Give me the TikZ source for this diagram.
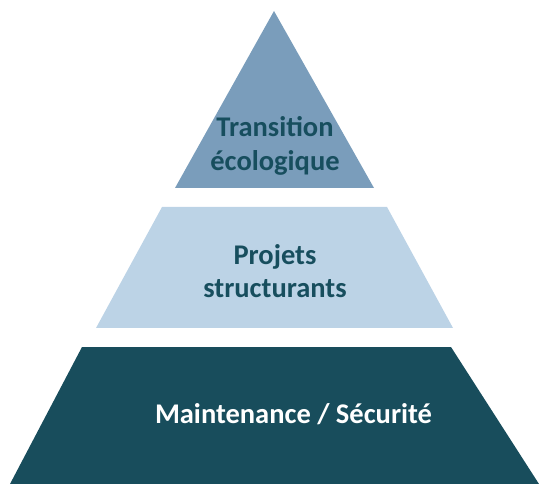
\documentclass[tikz,border=0pt]{standalone}
\usepackage{fontspec}
\setmainfont{Carlito}
\definecolor{topblue}{RGB}{122,157,187}
\definecolor{midblue}{RGB}{188,211,230}
\definecolor{darkteal}{RGB}{24,77,92}
\definecolor{textteal}{RGB}{23,78,94}
\tikzset{
  lbl/.style={font=\bfseries\fontsize{28.5}{33.5}\selectfont, align=center, inner sep=0pt}
}
\begin{document}
\begin{tikzpicture}[x=1pt,y=-1pt]
\useasboundingbox (0,0) rectangle (539,484);
% levels
\fill[topblue] (274,11) -- (374,188) -- (175,188) -- cycle;
\fill[midblue] (162,207) -- (387,207) -- (453,328) -- (96,328) -- cycle;
\fill[darkteal] (82,347) -- (451,347) -- (539,484) -- (10,484) -- cycle;
% labels
\node[lbl, text=textteal] (t1) at (275,146) {Transition\\écologique};
\node[lbl, text=textteal] (t2) at (275,271) {Projets\\structurants};
\node[lbl, text=white, anchor=base] (t3) at (293.5,423) {Maintenance / Sécurité};
\end{tikzpicture}
\end{document}
